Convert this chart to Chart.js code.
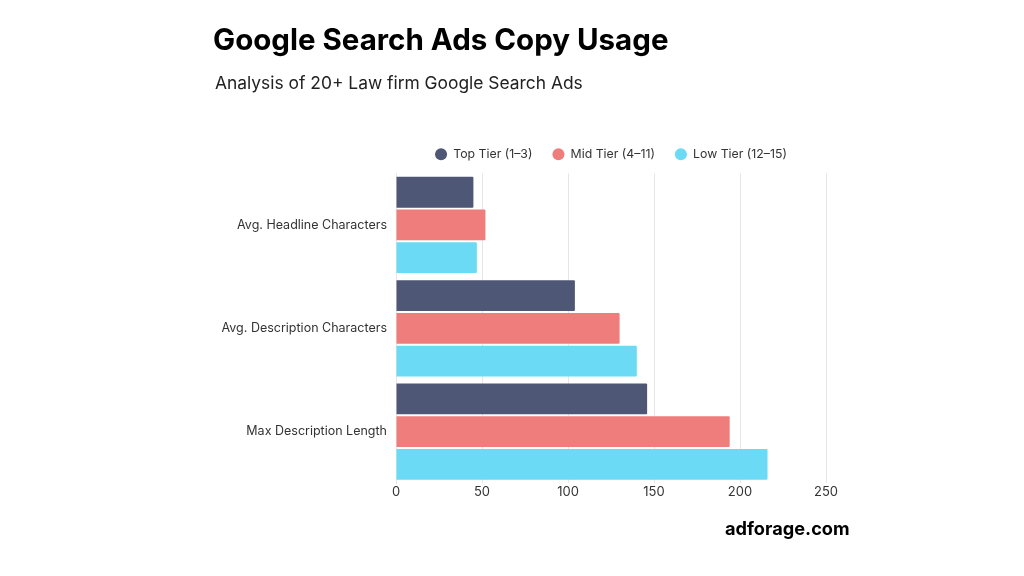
<!DOCTYPE html>
<html>
<head>
<meta charset="utf-8">
<script src="https://cdn.jsdelivr.net/npm/chart.js@4.4.1/dist/chart.umd.min.js"></script>
<style>
  html, body { margin: 0; padding: 0; background: #fff; }
  #wrap { position: relative; width: 1024px; height: 576px; overflow: hidden; }
  #myChart { position: absolute; left: 0; top: 0; }
  .txt { position: absolute; font-family: Inter, "Open Sans", sans-serif; color: #000; white-space: nowrap; }
  #title { left: 213px; top: 21px; font-size: 29.5px; font-weight: 700; }
  #subtitle { left: 215px; top: 72px; font-size: 17.4px; font-weight: 400; color: #222; }
  #brand { left: 725px; top: 517px; font-size: 18.2px; font-weight: 700; }
</style>
</head>
<body>
<div id="wrap">
  <canvas id="myChart" width="1024" height="576"></canvas>
  <div class="txt" id="title">Google Search Ads Copy Usage</div>
  <div class="txt" id="subtitle">Analysis of 20+ Law firm Google Search Ads</div>
  <div class="txt" id="brand">adforage.com</div>
</div>
<script>
const categories = ['Avg. Headline Characters', 'Avg. Description Characters', 'Max Description Length'];
const topTier = [45, 104, 146];
const midTier = [52, 130, 194];
const lowTier = [47, 140, 216];
const xTicks = [0, 50, 100, 150, 200, 250];

const ctx = document.getElementById('myChart');

// move the legend so it sits centred over the plot area
const legendMover = {
  id: 'legendMover',
  afterLayout(chart) {
    const lg = chart.legend;
    const area = chart.chartArea;
    lg.left = area.left;
    lg.right = area.right;
    lg.width = area.right - area.left;
    const dy = -3;
    lg.top += dy;
    lg.bottom += dy;
  }
};

new Chart(ctx, {
  type: 'bar',
  data: {
    labels: categories,
    datasets: [
      { label: 'Top Tier (1–3)', data: topTier, backgroundColor: '#4e5775' },
      { label: 'Mid Tier (4–11)', data: midTier, backgroundColor: '#ef7d7c' },
      { label: 'Low Tier (12–15)', data: lowTier, backgroundColor: '#6bdaf5' }
    ]
  },
  options: {
    indexAxis: 'y',
    responsive: false,
    animation: false,
    categoryPercentage: 0.95,
    barPercentage: 0.94,
    borderRadius: 1,
    layout: { padding: { left: 213, right: 198, top: 131, bottom: 75 } },
    font: { family: 'Inter' },
    scales: {
      x: {
        min: 0,
        max: 250,
        afterBuildTicks(scale) { scale.ticks = xTicks.map(v => ({ value: v })); },
        grid: { color: '#e6e6e6', drawTicks: false },
        border: { display: false },
        ticks: { padding: 1, color: '#333', font: { family: 'Inter', size: 13 } }
      },
      y: {
        afterFit(scale) { scale.width = 183; },
        grid: { display: false, drawTicks: false },
        border: { display: true, color: '#e6e6e6' },
        ticks: { padding: 9, color: '#333', font: { family: 'Inter', size: 12.5 } }
      }
    },
    plugins: {
      legend: {
        position: 'top',
        labels: {
          usePointStyle: true,
          pointStyle: 'circle',
          boxHeight: 8.5,
          pointStyleWidth: 12,
          padding: 20,
          color: '#333',
          font: { family: 'Inter', size: 12.3 }
        }
      },
      tooltip: { enabled: false }
    }
  },
  plugins: [legendMover]
});
</script>
</body>
</html>
